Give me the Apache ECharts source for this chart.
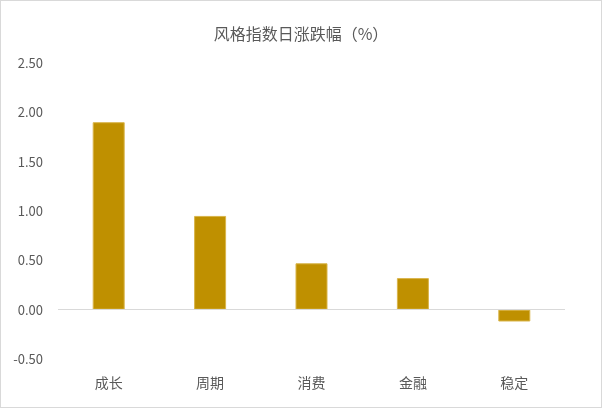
<!DOCTYPE html>
<html><head><meta charset="utf-8">
<script src="https://cdn.jsdelivr.net/npm/echarts@6/dist/echarts.min.js"></script>
<style>html,body{margin:0;padding:0;background:#fff}#c{width:602px;height:408px;box-sizing:border-box;border:1px solid #d9d9d9}</style>
</head><body><div id="c"></div>
<script>
const title = '风格指数日涨跌幅（%）';
const categories = ['成长', '周期', '消费', '金融', '稳定'];
const values = [1.90, 0.95, 0.47, 0.32, -0.12];
const yTicks = { min: -0.5, max: 2.5, interval: 0.5 };

const chart = echarts.init(document.getElementById('c'));
const font = '"Noto Sans CJK SC", "Noto Sans", sans-serif';
chart.setOption({
  animation: false,
  title: { text: title, left: 'center', top: 20, textStyle: { fontSize: 16, fontWeight: 'normal', color: '#595959', fontFamily: font } },
  grid: { left: 57, right: 36, top: 62, bottom: 48 },
  xAxis: {
    type: 'category', data: categories,
    axisLine: { show: false, onZero: false }, axisTick: { show: false },
    axisLabel: { color: '#595959', fontSize: 14, margin: 17, fontFamily: font }
  },
  yAxis: {
    type: 'value', min: yTicks.min, max: yTicks.max, interval: yTicks.interval,
    axisLine: { show: false }, axisTick: { show: false }, splitLine: { show: false },
    axisLabel: { color: '#595959', fontSize: 13, margin: 15, fontFamily: font, formatter: v => v.toFixed(2) }
  },
  series: [{
    type: 'bar', data: values, barWidth: 32,
    itemStyle: { color: '#BF9000', borderColor: '#D9B54A', borderWidth: 1 },
    markLine: { silent: true, symbol: 'none', label: { show: false },
      lineStyle: { color: '#d9d9d9', width: 1, type: 'solid' }, data: [{ yAxis: 0 }] }
  }]
});
</script></body></html>
